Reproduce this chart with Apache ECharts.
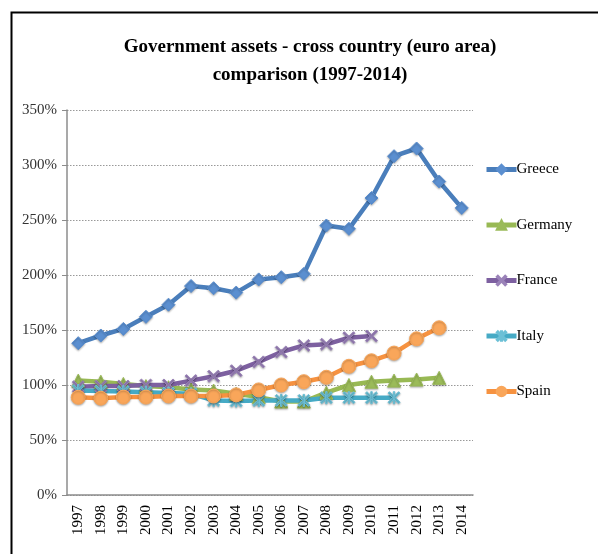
<!DOCTYPE html>
<html>
<head>
<meta charset="utf-8">
<script src="https://cdn.jsdelivr.net/npm/echarts@6/dist/echarts.min.js"></script>
<style>
html,body{margin:0;padding:0;background:#fff;}
#c{width:598px;height:554px;}
</style>
</head>
<body>
<div id="c"></div>
<script>
var years = ['1997','1998','1999','2000','2001','2002','2003','2004','2005','2006','2007','2008','2009','2010','2011','2012','2013','2014'];
var greece  = [138,145,151,162,173,190,188,184,196,198,201,245,242,270,308,315,285,261];
var germany = [104,103,101,99,98,96,95,92,89,85,85,93,100,103,104,105,106.5,null];
var france  = [98.5,99,99,100,100,104,108,113,121,130,136,137,143,144.5,null,null,null,null];
var italy   = [95,94.5,94,93.5,92.7,92,86,85.5,86,86,86,88.5,88.5,88.5,88.5,null,null,null];
var spain   = [88.8,88,89,89,90,90,90,91,95.5,100,103,107,117,122,129,142,152,null];
var yTicks  = [0,50,100,150,200,250,300,350];

var xPath = 'path://M0,1.2L1.2,0L5,3.8L8.8,0L10,1.2L6.2,5L10,8.8L8.8,10L5,6.2L1.2,10L0,8.8L3.8,5Z';
var starPath = 'path://M0,1.2L1.2,0L5,3.8L8.8,0L10,1.2L6.2,5L10,8.8L8.8,10L5,6.2L1.2,10L0,8.8L3.8,5Z M4.4,0L5.6,0L5.6,10L4.4,10Z';

var font = 'Liberation Serif, Times New Roman, serif';
function mk(name, data, color, symbol, size, symColor){
  return {
    name: name, type: 'line', data: data, connectNulls: false,
    symbol: symbol, symbolSize: size,
    lineStyle: {color: color, width: 4.5},
    itemStyle: {color: symColor || color, borderColor: symColor || color, borderWidth: 1,
      shadowColor: 'rgba(0,0,0,0.3)', shadowBlur: 2, shadowOffsetY: 1},
    emphasis: {disabled: true}
  };
}
var chart = echarts.init(document.getElementById('c'), null, {renderer: 'canvas'});
chart.setOption({
  animation: false,
  backgroundColor: '#fff',
  graphic: [{type: 'rect', left: 9, top: 10, shape: {width: 600, height: 560},
    style: {fill: 'none', stroke: '#000', lineWidth: 2}, z: -1}],
  title: {
    text: 'Government assets - cross country (euro area)\ncomparison (1997-2014)',
    left: 305, top: 28, textAlign: 'center',
    textStyle: {fontFamily: font, fontWeight: 'bold', fontSize: 19, color: '#000', lineHeight: 28}
  },
  legend: {
    orient: 'vertical', left: 479, top: 157, itemGap: 40.5,
    itemWidth: 30, itemHeight: 12,
    lineStyle: {width: 5},
    textStyle: {fontFamily: font, fontSize: 15, color: '#000', padding: [0,0,0,-5]},
    data: ['Greece','Germany','France','Italy','Spain']
  },
  grid: {left: 67, right: 125, top: 110, bottom: 59},
  xAxis: {
    type: 'category', data: years, boundaryGap: true,
    axisLine: {lineStyle: {color: '#8c8c8c', width: 1.5}},
    axisTick: {alignWithLabel: false, length: 5, lineStyle: {color: '#8c8c8c'}},
    axisLabel: {rotate: 90, interval: 0, fontFamily: font, fontSize: 15, color: '#000', margin: 10}
  },
  yAxis: {
    type: 'value', min: 0, max: 350, interval: 50,
    axisLine: {show: true, lineStyle: {color: '#8c8c8c', width: 1.5}},
    axisTick: {show: true, inside: false, length: 5, lineStyle: {color: '#8c8c8c'}},
    splitLine: {lineStyle: {color: '#999', type: [1.5,1.5], width: 1}},
    axisLabel: {formatter: '{value}%', fontFamily: font, fontSize: 15, color: '#333', margin: 10}
  },
  series: [
    mk('Greece', greece, '#4A7EBB', 'diamond', 13, '#5B8FD0'),
    mk('Germany', germany, '#98B954', 'triangle', 13, '#9BBB59'),
    mk('France', france, '#7D60A0', xPath, 12, '#9A82B8'),
    mk('Italy', italy, '#46AAC5', starPath, 12, '#6CC0D6'),
    mk('Spain', spain, '#F69240', 'circle', 14, '#F9A65A')
  ]
});
</script>
</body>
</html>
